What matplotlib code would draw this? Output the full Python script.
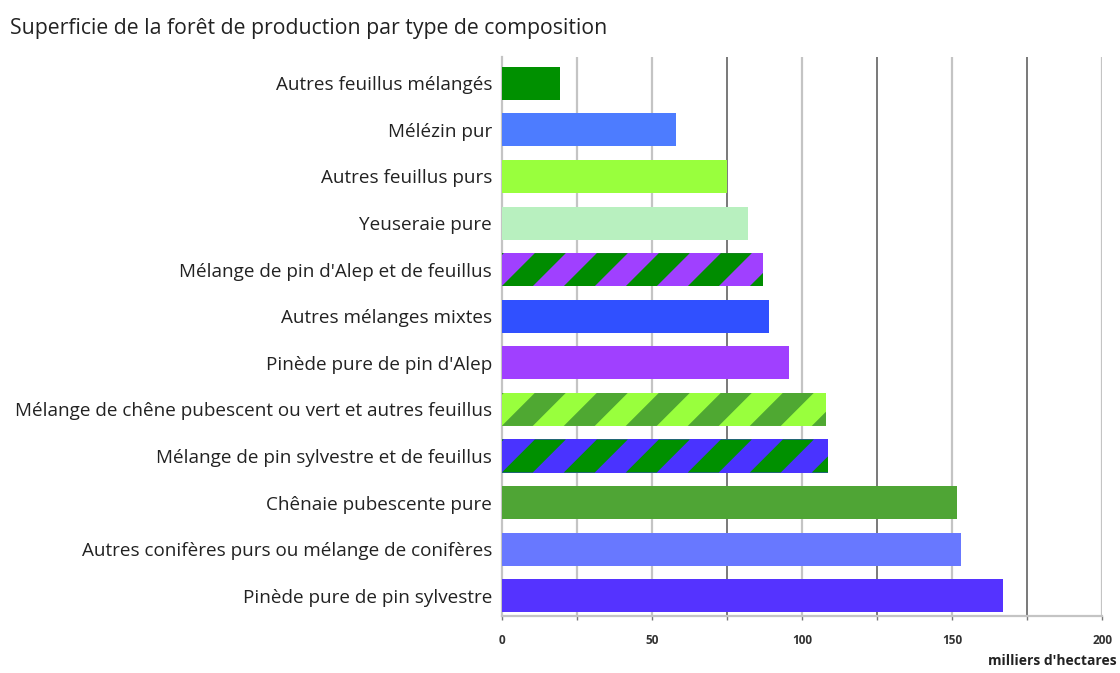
import matplotlib.pyplot as plt
from matplotlib.patches import Polygon

plt.rcParams['font.family'] = ['Open Sans', 'DejaVu Sans']

categories = [
    "Autres feuillus mélangés",
    "Mélézin pur",
    "Autres feuillus purs",
    "Yeuseraie pure",
    "Mélange de pin d'Alep et de feuillus",
    "Autres mélanges mixtes",
    "Pinède pure de pin d'Alep",
    "Mélange de chêne pubescent ou vert et autres feuillus",
    "Mélange de pin sylvestre et de feuillus",
    "Chênaie pubescente pure",
    "Autres conifères purs ou mélange de conifères",
    "Pinède pure de pin sylvestre",
]
values = [19.3, 58, 75, 82, 87, 89, 95.7, 108, 108.7, 151.7, 153, 167]
colors = ["#009000", "#4d7cff", "#99ff3d", "#b8f0bf", "#a040ff", "#3050ff",
          "#a040ff", "#99ff3d", "#4a33ff", "#4fa535", "#6878ff", "#5533ff"]
# second colour for the striped (mixed) compositions
stripes = [None, None, None, None, "#008c00", None,
           None, "#4fa832", "#009000", None, None, None]

xticks = [0, 50, 100, 150, 200]

fig = plt.figure(figsize=(11.2, 6.73), dpi=100)
ax = fig.add_axes([0.448, 0.085, 0.536, 0.830])

ypos = range(len(categories))
bars = ax.barh(ypos, values, height=0.71, color=colors, zorder=3)

ax.set_xlim(0, 200)
ax.set_ylim(11.43, -0.56)

# grid: light and dark vertical lines every 25
for g in range(25, 201, 25):
    dark = g in (75, 125, 175)
    ax.axvline(g, color="#555555" if dark else "#c4c4c4",
               lw=1.1 if dark else 1.6, zorder=1)

# diagonal stripes clipped to the bar shape
p0 = ax.transData.transform((0, 0))
p1 = ax.transData.transform((1, 1))
sx = abs(p1[0] - p0[0])
sy = abs(p1[1] - p0[1])
period = 62 / sx
for bar, c2 in zip(bars, stripes):
    if c2 is None:
        continue
    x0, y0 = bar.get_x(), bar.get_y()
    w, h = bar.get_width(), bar.get_height()
    shift = h * sy / sx
    k = -period
    while k < w + period:
        xs = x0 + k
        poly = Polygon([(xs, y0 + h), (xs + period / 2, y0 + h),
                        (xs + period / 2 + shift, y0), (xs + shift, y0)],
                       closed=True, facecolor=c2, edgecolor="none", zorder=4)
        ax.add_patch(poly)
        poly.set_clip_path(bar)
        k += period

ax.set_yticks(list(ypos))
ax.set_yticklabels(categories, fontsize=13.6, color="#222222")
ax.tick_params(axis="y", length=0, pad=7)

ax.set_xticks(xticks)
ax.set_xticklabels([str(t) for t in xticks], fontsize=8.5, fontweight="bold",
                   color="#333333")
ax.set_xticks(range(0, 201, 25), minor=True)
ax.tick_params(axis="x", which="both", length=3, width=1, color="#777777",
               pad=10)

for s in ("top", "right"):
    ax.spines[s].set_visible(False)
ax.spines["left"].set_color("#c4c4c4")
ax.spines["left"].set_linewidth(1.6)
ax.spines["bottom"].set_color("#c4c4c4")
ax.spines["bottom"].set_linewidth(1.6)

fig.text(0.009, 0.958, "Superficie de la forêt de production par type de composition",
         fontsize=15.3, color="#222222", va="center", ha="left")
fig.text(0.997, 0.008, "milliers d'hectares", fontsize=10, fontweight="bold",
         color="#222222", ha="right", va="bottom")

fig.savefig("out.png", dpi=100)
